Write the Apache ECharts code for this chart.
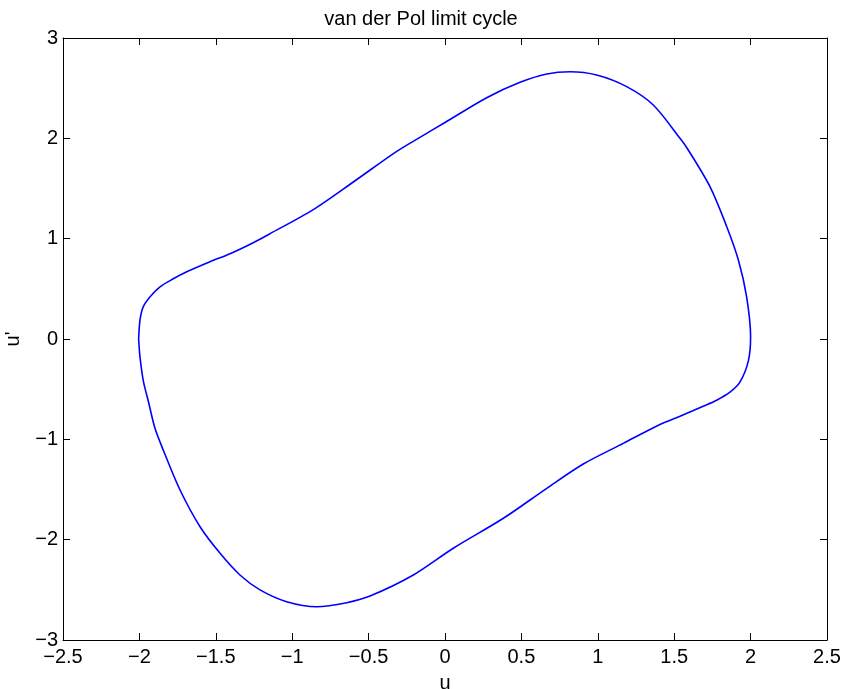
<!DOCTYPE html>
<html>
<head>
<meta charset="utf-8">
<script src="https://cdn.jsdelivr.net/npm/echarts@6/dist/echarts.min.js"></script>
<style>html,body{margin:0;padding:0;background:#fff;}#c{width:842px;height:689px;}</style>
</head>
<body>
<div id="c"></div>
<script>
// Limit cycle points (u, u'), traversed clockwise
const uValues = [
  -2.005, -1.996, -1.975, -1.93, -1.865, -1.778, -1.69, -1.538, -1.407, -1.255,
  -1.145, -0.862, -0.600, -0.316, -0.164, 0.0, 0.273, 0.491, 0.666,
  0.818, 0.993, 1.189, 1.363, 1.538, 1.592, 1.734, 1.844, 1.92, 1.974,
  2.0, 1.985, 1.93, 1.865, 1.778, 1.69, 1.538, 1.407, 1.167, 0.905, 0.666,
  0.382, 0.054, -0.207, -0.491, -0.643, -0.84, -1.036, -1.211, -1.342, -1.472,
  -1.603, -1.734, -1.844, -1.898, -1.94, -1.974, -1.996, -2.005
];
const duValues = [
  0.0, 0.19, 0.32, 0.42, 0.52, 0.60, 0.67, 0.77, 0.85, 0.96,
  1.05, 1.29, 1.565, 1.87, 2.01, 2.158, 2.405, 2.558, 2.641,
  2.664, 2.631, 2.515, 2.332, 2.0, 1.884, 1.518, 1.119, 0.787, 0.42,
  0.02, -0.22, -0.43, -0.53, -0.61, -0.67, -0.77, -0.852, -1.04, -1.246, -1.488,
  -1.787, -2.086, -2.352, -2.562, -2.628, -2.668, -2.618, -2.50, -2.352, -2.136,
  -1.871, -1.505, -1.106, -0.89, -0.63, -0.42, -0.18, 0.0
];
const xTicks = { min: -2.5, max: 2.5, interval: 0.5 };
const yTicks = { min: -3, max: 3, interval: 1 };

const FONT = "'Liberation Sans', Arial, sans-serif";
const fmt = v => String(+v.toFixed(2)).replace('-', '\u2212');
const lineStyle = { color: '#000', width: 1 };
const tickStyle = { show: true, inside: true, length: 7, lineStyle: { color: '#000', width: 1 } };

const data = uValues.map((u, i) => [u, duValues[i]]);

const chart = echarts.init(document.getElementById('c'), null, { renderer: 'canvas' });
chart.setOption({
  animation: false,
  backgroundColor: '#fff',
  title: {
    text: 'van der Pol limit cycle', left: 'center', top: 4,
    textStyle: { fontFamily: FONT, fontSize: 20, fontWeight: 'normal', color: '#000' }
  },
  grid: { left: 63, top: 38, right: 15, bottom: 49, containLabel: false, outerBoundsMode: 'none' },
  xAxis: [
    {
      type: 'value', position: 'bottom', min: xTicks.min, max: xTicks.max, interval: xTicks.interval,
      name: 'u', nameLocation: 'middle', nameGap: 33,
      nameTextStyle: { fontFamily: FONT, fontSize: 20, color: '#000' },
      axisLine: { show: true, onZero: false, lineStyle },
      axisTick: tickStyle, splitLine: { show: false },
      axisLabel: { formatter: fmt, margin: 7, fontFamily: FONT, fontSize: 20, color: '#000' }
    },
    {
      type: 'value', position: 'top', min: xTicks.min, max: xTicks.max, interval: xTicks.interval,
      axisLine: { show: true, onZero: false, lineStyle },
      axisTick: tickStyle, splitLine: { show: false }, axisLabel: { show: false }
    }
  ],
  yAxis: [
    {
      type: 'value', position: 'left', min: yTicks.min, max: yTicks.max, interval: yTicks.interval,
      name: "u'", nameLocation: 'middle', nameGap: 40,
      nameTextStyle: { fontFamily: FONT, fontSize: 20, color: '#000' },
      axisLine: { show: true, onZero: false, lineStyle },
      axisTick: tickStyle, splitLine: { show: false },
      axisLabel: { formatter: fmt, margin: 5, fontFamily: FONT, fontSize: 20, color: '#000' }
    },
    {
      type: 'value', position: 'right', min: yTicks.min, max: yTicks.max, interval: yTicks.interval,
      axisLine: { show: true, onZero: false, lineStyle },
      axisTick: tickStyle, splitLine: { show: false }, axisLabel: { show: false }
    }
  ],
  series: [{
    type: 'line', xAxisIndex: 0, yAxisIndex: 0, data: data,
    showSymbol: false, smooth: 0.3,
    lineStyle: { color: '#0000ff', width: 1.6 }
  }]
});
</script>
</body>
</html>
